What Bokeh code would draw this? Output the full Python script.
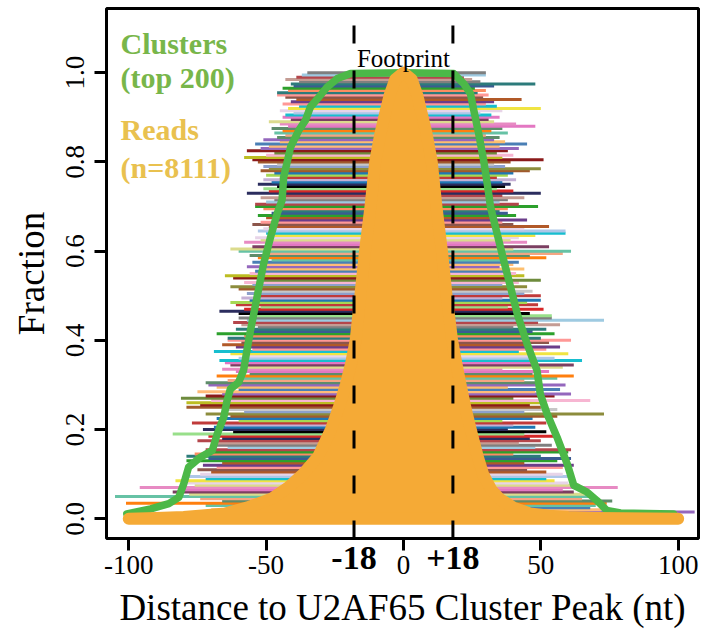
from bokeh.plotting import figure
from bokeh.models import Range1d, FixedTicker, Label, LinearAxis
from bokeh.embed import file_html
from bokeh.resources import INLINE

# ---------------- data ----------------
# cluster rows (top 200 clusters), bottom row first: left / right ends (nt)
L = [-60, -55, -62, -70, -58, -72, -101, -66, -74, -105,
     -78, -84, -80, -96, -76, -81, -83, -72, -79, -74,
     -70, -75, -68, -73, -66, -79, -71, -79, -76, -69,
     -72, -64, -68, -70, -75, -66, -71, -84, -62, -73,
     -69, -65, -77, -60, -68, -63, -72, -58, -66, -79,
     -74, -79, -70, -81, -72, -66, -75, -60, -68, -71,
     -72, -64, -59, -68, -56, -61, -66, -58, -63, -65,
     -67, -60, -57, -63, -69, -55, -61, -66, -59, -64,
     -64, -58, -68, -56, -61, -53, -59, -62, -57, -60,
     -55, -60, -67, -58, -52, -61, -63, -56, -59, -54,
     -57, -53, -60, -63, -55, -58, -51, -62, -65, -56,
     -54, -50, -57, -52, -55, -48, -53, -56, -51, -60,
     -63, -55, -49, -58, -52, -54, -47, -50, -53, -51,
     -49, -55, -52, -47, -50, -53, -48, -46, -51, -54,
     -54, -50, -47, -52, -45, -57, -49, -51, -46, -53,
     -48, -51, -45, -50, -47, -52, -49, -51, -46, -53,
     -55, -58, -50, -47, -57, -52, -49, -54, -45, -51,
     -46, -43, -47, -44, -48, -42, -45, -49, -41, -44,
     -43, -40, -45, -42, -38, -44, -41, -39, -43, -46,
     -46, -42, -44, -40, -41, -38, -43, -39, -37, -35]
R = [60, 55, 106, 72, 68, 70, 74, 76, 65, 70,
     66, 62, 58, 78, 64, 60, 55, 52, 62, 58,
     52, 45, 58, 62, 44, 56, 61, 50, 40, 60,
     61, 48, 54, 42, 50, 46, 56, 44, 52, 38,
     48, 40, 52, 36, 47, 56, 73, 44, 56, 50,
     46, 52, 68, 40, 55, 61, 48, 57, 38, 59,
     50, 44, 56, 62, 47, 53, 36, 58, 62, 49,
     65, 55, 48, 60, 42, 52, 57, 46, 53, 61,
     50, 44, 55, 47, 52, 40, 57, 49, 73, 54,
     54, 46, 42, 51, 38, 49, 45, 50, 36, 50,
     44, 47, 40, 45, 36, 42, 50, 38, 44, 41,
     38, 44, 35, 40, 42, 37, 52, 46, 58, 61,
     40, 53, 36, 45, 39, 42, 48, 59, 59, 44,
     53, 40, 36, 45, 33, 41, 38, 35, 38, 49,
     42, 35, 38, 44, 36, 50, 40, 34, 37, 39,
     36, 41, 34, 38, 40, 46, 50, 37, 33, 39,
     51, 36, 40, 34, 38, 42, 35, 45, 37, 33,
     35, 30, 38, 32, 36, 48, 41, 33, 31, 35,
     32, 28, 36, 50, 34, 30, 33, 43, 29, 31,
     27, 30, 26, 33, 48, 28, 25, 22, 30, 30]
N_CLUSTERS = 200
ROW_Y = [(i + 1) / N_CLUSTERS for i in range(N_CLUSTERS)]

# fraction of clusters covering each position (green)
GX = [-100.7, -92, -85.4, -81.8, -80, -78.2, -73.9, -69.6, -67.8, -65.4, -64.2, -63, -60, -58.2,
      -57, -55.7, -53.3, -50.9, -48.4, -46, -44.2, -43.6, -41.1, -38.1, -35.7, -33.9, -30.8,
      -27.8, -24.1, -19.3, 0, 18.3, 22, 24.4, 25.6, 27.4, 29.2, 30.5, 31.7, 33.5, 36.5, 39,
      41.4, 45, 48.6, 49.8, 52.3, 55.9, 59.6, 62, 66.8, 70.4, 74, 79, 98.3]
GY = [0.011, 0.022, 0.034, 0.048, 0.078, 0.116, 0.138, 0.153, 0.19, 0.228, 0.265, 0.291, 0.306,
      0.333, 0.377, 0.422, 0.497, 0.572, 0.631, 0.684, 0.714, 0.766, 0.833, 0.871, 0.893, 0.923,
      0.945, 0.968, 0.987, 0.998, 1.0, 0.998, 0.975, 0.953, 0.916, 0.863, 0.803, 0.751, 0.699,
      0.654, 0.579, 0.519, 0.46, 0.392, 0.333, 0.28, 0.235, 0.183, 0.123, 0.075, 0.06, 0.041,
      0.019, 0.013, 0.011]

# read density (orange)
OX = [-100, -90, -80, -70, -65, -57, -48, -42, -36.6, -31, -26.4, -23.5, -21, -19, -17.4, -15.7,
      -14, -12, -10.3, -8.5, -7, -5, -3, 0, 3, 5, 7, 8.5, 10.3, 12, 14, 15.7, 17.7, 19.2, 20.8,
      22.5, 24.5, 27, 29, 32, 35, 40, 46, 53, 60, 70, 80, 90, 100]
OY = [0, 0.002, 0.004, 0.009, 0.012, 0.025, 0.045, 0.07, 0.1, 0.14, 0.2, 0.25, 0.3, 0.35, 0.4,
      0.5, 0.6, 0.7, 0.8, 0.86, 0.9, 0.95, 0.985, 1.0, 0.985, 0.95, 0.9, 0.86, 0.8, 0.7, 0.6,
      0.5, 0.4, 0.35, 0.3, 0.25, 0.2, 0.14, 0.1, 0.065, 0.045, 0.025, 0.012, 0.007, 0.004,
      0.002, 0.001, 0.0005, 0]

FOOTPRINT = [-18, 18]
FOOTPRINT_LABELS = ["-18", "+18"]
XTICKS = [-100, -50, 0, 50, 100]
XTICK_LABELS = ["-100", "-50", "0", "50", "100"]
YTICKS = [0.0, 0.2, 0.4, 0.6, 0.8, 1.0]
YTICK_LABELS = ["0.0", "0.2", "0.4", "0.6", "0.8", "1.0"]

PALETTE = ["#4a7fb5", "#6b3d8a", "#c03a3a", "#f4a582", "#2c7b7b", "#8c8c3c", "#e377c2",
           "#9ecae1", "#8b1a1a", "#f0e442", "#2b2d5e", "#fdbf6f", "#b15928", "#a6d854",
           "#66c2a5", "#fc8d62", "#8da0cb", "#e78ac3", "#7f7f7f", "#bcbd22", "#17becf",
           "#d62728", "#9467bd", "#8c564b", "#1f77b4", "#ff7f0e", "#2ca02c", "#c7c7c7",
           "#dbdb8d", "#c49c94", "#f7b6d2", "#aec7e8", "#98df8a", "#ffbb78", "#ff9896",
           "#c5b0d5", "#5e8c6a", "#3b5b92", "#a05a2c", "#7b3f61", "#b4464b", "#6e8b3d",
           "#e7d4e8", "#000000"]
colors = [PALETTE[(i * 11 + (i // 5) * 3) % len(PALETTE)] for i in range(N_CLUSTERS)]

SERIF = "Liberation Serif"
Y_START, Y_END = -0.0442, 1.144

p = figure(width=706, height=632, x_range=Range1d(-108.1, 107.4), y_range=Range1d(Y_START, Y_END),
           output_backend="svg", toolbar_location=None,
           min_border_left=106, min_border_right=8, min_border_top=8, min_border_bottom=94)
p.grid.visible = False
p.outline_line_color = "black"
p.outline_line_width = 3
p.background_fill_color = "white"
p.border_fill_color = "white"

p.segment(x0=L, y0=ROW_Y, x1=R, y1=ROW_Y, line_color=colors, line_width=3, line_cap="butt")
p.line(GX, GY, line_color="#4cb848", line_width=7.5, line_join="round", line_cap="round")
p.patch(OX, OY, fill_color="#f5aa36", line_color="#f5aa36", line_width=12, line_join="round")

# footprint boundaries: dashed, drawn from the bottom of the frame upwards
p.segment(x0=FOOTPRINT, y0=[Y_START] * len(FOOTPRINT), x1=FOOTPRINT, y1=[Y_END] * len(FOOTPRINT),
          line_color="black", line_width=3, line_dash="18 27")

xa = p.xaxis[0]
for ax in (xa, p.yaxis[0]):
    ax.axis_line_color = None
    ax.major_tick_line_width = 3
    ax.major_tick_out = 12
    ax.major_tick_in = 0
    ax.minor_tick_line_color = None
    ax.major_label_text_font = SERIF
    ax.major_label_text_font_size = "27px"
    ax.major_label_text_color = "black"
    ax.axis_label_text_font = SERIF
    ax.axis_label_text_font_size = "37px"
    ax.axis_label_text_font_style = "normal"
    ax.axis_label_text_color = "black"

xa.ticker = FixedTicker(ticks=XTICKS)
xa.major_label_overrides = {t: s for t, s in zip(XTICKS, XTICK_LABELS)}
xa.major_label_standoff = 5

p.yaxis.ticker = FixedTicker(ticks=YTICKS)
p.yaxis.major_label_overrides = {t: s for t, s in zip(YTICKS, YTICK_LABELS)}
p.yaxis.major_label_orientation = "vertical"
p.yaxis.major_label_standoff = 10
p.yaxis.axis_label = "Fraction"
p.yaxis.axis_label_standoff = 12

# second x axis: bold footprint labels pulled up beside the normal tick labels, plus the x title
fp_axis = LinearAxis(ticker=FixedTicker(ticks=FOOTPRINT),
                     major_label_overrides={v: s for v, s in zip(FOOTPRINT, FOOTPRINT_LABELS)})
fp_axis.axis_line_color = None
fp_axis.major_tick_line_color = None
fp_axis.major_tick_out = 0
fp_axis.major_tick_in = 0
fp_axis.minor_tick_line_color = None
fp_axis.major_label_standoff = -30
fp_axis.major_label_text_font = SERIF
fp_axis.major_label_text_font_size = "34px"
fp_axis.major_label_text_font_style = "bold"
fp_axis.major_label_text_color = "black"
fp_axis.axis_label = "Distance to U2AF65 Cluster Peak (nt)"
fp_axis.axis_label_text_font = SERIF
fp_axis.axis_label_text_font_size = "37px"
fp_axis.axis_label_text_font_style = "normal"
fp_axis.axis_label_text_color = "black"
fp_axis.axis_label_standoff = 15
p.add_layout(fp_axis, "below")

p.add_layout(Label(x=0, y=1.032, text="Footprint", text_font=SERIF, text_font_size="25px",
                   text_align="center", text_baseline="alphabetic", text_color="black"))

for txt, yy, col in [("Clusters", 1.066, "#78b64a"), ("(top 200)", 0.989, "#78b64a"),
                     ("Reads", 0.872, "#e9c14f"), ("(n=8111)", 0.788, "#e9c14f")]:
    p.add_layout(Label(x=-103, y=yy, text=txt, text_font=SERIF, text_font_size="30px",
                       text_font_style="bold", text_align="left", text_baseline="alphabetic",
                       text_color=col))

open("out.html", "w").write(file_html(p, INLINE))
